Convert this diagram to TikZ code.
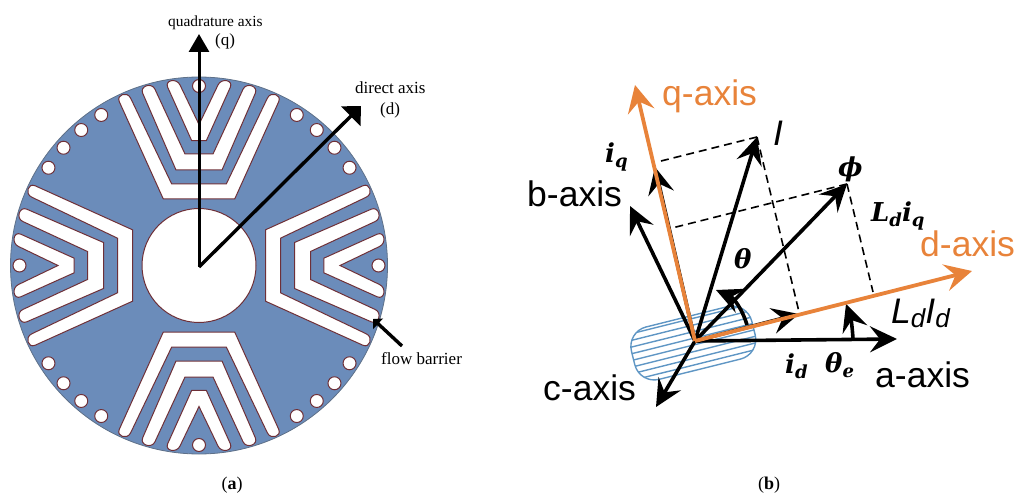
\documentclass[tikz,border=0pt]{standalone}
\usepackage{fontspec}
\setmainfont{Liberation Serif}
\newfontfamily\labelfont{Liberation Sans}
\newfontfamily\symbfont{DejaVu Serif}
\usetikzlibrary{arrows.meta}
\definecolor{rotorblue}{HTML}{6B8CBA}
\definecolor{rotoredge}{HTML}{5E7088}
\definecolor{barrieredge}{HTML}{6E3038}
\definecolor{axisorange}{HTML}{E8833A}
\definecolor{hatchblue}{HTML}{5F96C4}
\newcommand{\lowsub}[1]{\raisebox{-5pt}{\fontsize{18}{20}\selectfont #1}}
\tikzset{
	barrier/.style={draw=barrieredge, fill=white, line width=1pt},
	rotoraxis/.style={line width=3pt, -{Triangle[length=18pt,width=20pt]}},
	phasor/.style={line width=3.6pt, -{Stealth[length=27pt,width=26pt,inset=10pt]}},
	axisline/.style={line width=3.8pt, draw=axisorange, -{Stealth[length=27pt,width=27pt,inset=10pt]}},
	guide/.style={line width=1.6pt, dash pattern=on 8pt off 5pt},
	seriflabel/.style={inner sep=0pt, anchor=base west, font=\fontsize{17}{19}\selectfont},
	axislabel/.style={inner sep=0pt, anchor=base west, font=\labelfont\fontsize{35.5}{37}\selectfont},
	mathlabel/.style={inner sep=0pt, anchor=base west, font=\symbfont\bfseries\itshape\fontsize{26}{28}\selectfont},
	caption/.style={inner sep=0pt, anchor=base, font=\fontsize{18}{20}\selectfont}
}
\begin{document}
\begin{tikzpicture}[x=1pt,y=-1pt]
	\useasboundingbox (0,0) rectangle (1016,494);

	% (a) rotor
	\coordinate (rotor) at (199,265.5);
	\draw[fill=rotorblue, draw=rotoredge, line width=0.8pt] (rotor) circle [radius=188.5];
	\draw[barrier] (rotor) circle [radius=57];
	\foreach \r in {0,90,180,270}
	{
		\begin{scope}[shift={(rotor)},rotate=\r]
			\draw[barrier] (-35.7,-66.5) -- (-79.7,-163.8) .. controls (-83,-171.1) and (-71.6,-174.5) .. (-68.3,-167.2) -- (-27.3,-81.5) -- (27.3,-81.5) -- (68.3,-167.2) .. controls (71.6,-174.5) and (83,-171.1) .. (79.7,-163.8) -- (35.7,-66.5) -- cycle;
			\draw[barrier] (-23,-95.5) -- (-56.3,-172.2) .. controls (-59.5,-179.5) and (-47.2,-183.5) .. (-44,-176.2) -- (-14,-111.5) -- (14,-111.5) -- (44,-176.2) .. controls (47.2,-183.5) and (59.5,-179.5) .. (56.3,-172.2) -- (23,-95.5) -- cycle;
			\draw[barrier] (-7.3,-124.8) -- (-31.3,-178.2) .. controls (-34.6,-185.5) and (-22.3,-187.8) .. (-19,-180.5) -- (0,-141) -- (19,-180.5) .. controls (22.3,-187.8) and (34.6,-185.5) .. (31.3,-178.2) -- (7.3,-124.8) -- cycle;
			\foreach \a in {0,33,41,49,57}
				\draw[barrier] (90+\a:179.5) circle [radius=6.5];
		\end{scope}
	}

	\coordinate (axisorigin) at (199,267);
	\coordinate (qtip) at (199,34);
	\coordinate (dtip) at (361,106);
	\coordinate (flowstart) at (402,346);
	\coordinate (flowtip) at (373,319);
	\draw[rotoraxis] (axisorigin) -- (qtip);
	\draw[line width=3.4pt, -{Triangle[length=14.5pt,width=27pt]}] (axisorigin) -- (dtip);
	\draw[line width=3.4pt, -{Triangle[length=7pt,width=14pt]}] (flowstart) -- (flowtip);

	\node[seriflabel, font=\fontsize{15.4}{17}\selectfont] (quadlabel) at (168,27) {quadrature axis};
	\node[seriflabel] (qlabel) at (215,46) {(q)};
	\node[seriflabel] (directlabel) at (355,94) {direct axis};
	\node[seriflabel] (dlabel) at (380,115) {(d)};
	\node[seriflabel] (flowlabel) at (381,364) {flow barrier};
	\node[caption] (capa) at (232,489) {(\textbf{a})};

	% (b) phasors
	\coordinate (o) at (695,341);
	\begin{scope}[shift={(693.3,343)},rotate=14]
		\draw[hatchblue, line width=1.4pt, rounded corners=20pt] (-62,-27) rectangle (62,27);
		\clip[rounded corners=20pt] (-62,-27) rectangle (62,27);
		\foreach \y in {-24,-17.5,...,24}
			\draw[hatchblue, line width=1.4pt] (-62,\y) -- (62,\y);
	\end{scope}

	\coordinate (qaxis) at (635,85);
	\coordinate (daxis) at (972,271);
	\coordinate (aaxis) at (897,339);
	\coordinate (baxis) at (630,206);
	\coordinate (caxis) at (656,407);
	\coordinate (itip) at (757,137);
	\coordinate (phitip) at (847,184);
	\coordinate (iqtip) at (655,167);
	\coordinate (idtip) at (799,314);
	\coordinate (iqfoot) at (657,162);
	\coordinate (idfoot) at (799,312);
	\coordinate (phiq) at (672,228);
	\coordinate (phid) at (873,292);
	\coordinate (thstart) at (747,325);
	\coordinate (thtip) at (716,290);
	\coordinate (testart) at (853,339);
	\coordinate (tetip) at (846,304);

	\draw[guide] (itip) -- (iqfoot);
	\draw[guide] (itip) -- (idfoot);
	\draw[guide] (phitip) -- (phiq);
	\draw[guide] (phitip) -- (phid);

	\draw[phasor] (o) -- (baxis);
	\draw[phasor] (o) -- (caxis);
	\draw[phasor] (o) -- (aaxis);
	\draw[phasor] (o) -- (itip);
	\draw[phasor] (o) -- (phitip);
	\draw[phasor] (o) -- (iqtip);
	\draw[phasor] (o) -- (idtip);
	\draw[phasor] (thstart) to[bend right=25] (thtip);
	\draw[phasor] (testart) to[bend right=8] (tetip);

	\draw[axisline] (o) -- (qaxis);
	\draw[axisline] (o) -- (daxis);

	\node[axislabel, text=axisorange] (qname) at (662,106) {q-axis};
	\node[axislabel, text=axisorange] (dname) at (920,256) {d-axis};
	\node[axislabel] (bname) at (527,207) {b-axis};
	\node[axislabel] (cname) at (543,400) {c-axis};
	\node[axislabel] (aname) at (875,387) {a-axis};
	\node[axislabel] (iname) at (773,146) {\itshape I};
	\node[axislabel] (ldname) at (891,323) {\itshape L\raisebox{-4pt}{\fontsize{26}{28}\selectfont d}I\raisebox{-4pt}{\fontsize{26}{28}\selectfont d}};
	\node[mathlabel] (iqname) at (605,163) {i\lowsub{q}};
	\node[mathlabel] (thname) at (734,268) {θ};
	\node[mathlabel] (phiname) at (838,177) {ϕ};
	\node[mathlabel] (ldiqname) at (871,222) {L\lowsub{d}i\lowsub{q}};
	\node[mathlabel] (idname) at (785,373) {i\lowsub{d}};
	\node[mathlabel] (tename) at (825,372) {θ\lowsub{e}};
	\node[caption] (capb) at (769,489) {(\textbf{b})};
\end{tikzpicture}
\end{document}
